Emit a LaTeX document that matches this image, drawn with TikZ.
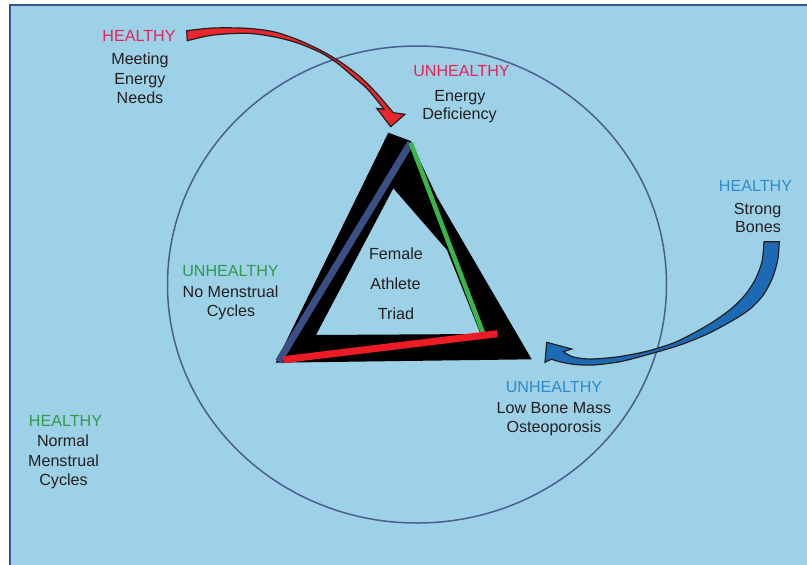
\documentclass[tikz,border=0pt]{standalone}
\usepackage{fontspec}
\setmainfont{Liberation Sans}
\definecolor{bgblue}{HTML}{9DD1E8}
\definecolor{framec}{HTML}{3B5591}
\definecolor{circlec}{HTML}{4B5F8F}
\definecolor{hred}{HTML}{E3245A}
\definecolor{hblue}{HTML}{2E8BCB}
\definecolor{hgreen}{HTML}{2F9A4A}
\definecolor{ink}{HTML}{231F20}
\definecolor{triblue}{HTML}{3B4F87}
\definecolor{trigreen}{HTML}{3AB54A}
\definecolor{trired}{HTML}{ED1C24}
\definecolor{arrred}{HTML}{E8262B}
\definecolor{arrblue}{HTML}{1D6AB4}
\newcommand{\labelfont}{\fontsize{16.1pt}{19pt}\selectfont}
\begin{document}
\begin{tikzpicture}[x=1pt,y=-1pt,
  lbl/.style={font=\labelfont, text=ink, anchor=base, inner sep=0pt},
  side/.style={line width=#1, line cap=butt},
  bigarrow/.style={draw=ink, line width=1.2pt, line join=miter, miter limit=6}]
\useasboundingbox (0,0) rectangle (807,565);
\clip (0,0) rectangle (807,565);
\fill[white] (0,0) rectangle (807,565);
% panel
\filldraw[fill=bgblue, draw=framec, line width=1.6pt] (10,5) rectangle (830,590);
% ring
\draw[circlec, line width=1.5pt] (417,284.5) ellipse [x radius=249.5, y radius=238.5];

% black body of the triad
\fill[black, even odd rule]
  (388.3,132.7) -- (410.7,141) -- (437,197) -- (531.7,359.3) -- (275.7,362.7) -- cycle
  (393.3,188.3) -- (447,250) -- (480.5,334) -- (316,335) -- cycle;
% coloured sides
\coordinate (ttop) at (410.7,142.7);
\coordinate (tleft) at (278.5,361.5);
\coordinate (tgreenend) at (483,333);
\coordinate (tredl) at (283.3,359.7);
\coordinate (tredr) at (497.3,333.7);
\draw[side=7pt, triblue] (ttop) -- (tleft);
\draw[side=4.6pt, trigreen] (ttop) -- (tgreenend);
\draw[side=7pt, trired] (tredl) -- (tredr);

% curved arrow, red
\filldraw[bigarrow, fill=arrred]
  plot[smooth] coordinates {(186.7,30.7) (213.3,28) (246.7,28.3) (273.3,31.7) (296.7,39.3)
     (320,50) (340,61.7) (360,76.7) (376.7,93.3) (393.3,112.7)}
  -- (405,114.3) -- (390.7,126.7) -- (376.7,108.3)
  -- plot[smooth] coordinates {(384,109.3) (376.7,100) (366.7,88.3) (353.3,76.7) (336.7,62.7)
     (320,52.3) (296.7,42.7) (273.3,36.7) (246.7,33.3) (213.3,35) (187.3,40.7)}
  -- cycle;

% curved arrow, blue
\filldraw[bigarrow, fill=arrblue]
  plot[smooth] coordinates {(779.3,241.7) (777.7,260) (772.3,278.3) (763.3,295) (750,309)
     (731.7,321) (706.7,334.3) (680,345) (650,354) (620,361.7) (593.3,365) (573.3,364.3)
     (556.7,361) (551.7,359)}
  -- (545,362.3) -- (546.7,342.3) -- (571.7,349)
  -- plot[smooth] coordinates {(563.3,351.7) (573.3,357) (590,359) (616.7,357) (646.7,351.3)
     (673.3,343) (693.3,333.3) (713.3,321.7) (731.7,308.3) (745,295) (755,280) (762,261.7)
     (764,241.7)}
  -- cycle;

% labels: top left
\node[lbl, text=hred] (meetT) at (139,41) {HEALTHY};
\node[lbl] (meet1) at (140,64) {Meeting};
\node[lbl] (meet2) at (140,84) {Energy};
\node[lbl] (meet3) at (140,103) {Needs};
% top
\node[lbl, text=hred] (defT) at (461.5,76) {UNHEALTHY};
\node[lbl] (def1) at (460,101) {Energy};
\node[lbl] (def2) at (459.5,119) {Deficiency};
% right
\node[lbl, text=hblue] (boneT) at (755.5,191) {HEALTHY};
\node[lbl] (bone1) at (757.5,214) {Strong};
\node[lbl] (bone2) at (758,232) {Bones};
% left, inside ring
\node[lbl, text=hgreen] (cycT) at (230.5,276) {UNHEALTHY};
\node[lbl] (cyc1) at (230.5,297) {No Menstrual};
\node[lbl] (cyc2) at (231,316) {Cycles};
% bottom right
\node[lbl, text=hblue] (lowT) at (554,392) {UNHEALTHY};
\node[lbl] (low1) at (554,413) {Low Bone Mass};
\node[lbl] (low2) at (554,432) {Osteoporosis};
% bottom left
\node[lbl, text=hgreen] (normT) at (65.5,426) {HEALTHY};
\node[lbl] (norm1) at (63,446) {Normal};
\node[lbl] (norm2) at (63.5,466) {Menstrual};
\node[lbl] (norm3) at (63.5,485) {Cycles};
% centre
\node[lbl] (fem) at (396,259) {Female};
\node[lbl] (ath) at (395.5,289) {Athlete};
\node[lbl] (tri) at (396,319) {Triad};
\end{tikzpicture}
\end{document}
